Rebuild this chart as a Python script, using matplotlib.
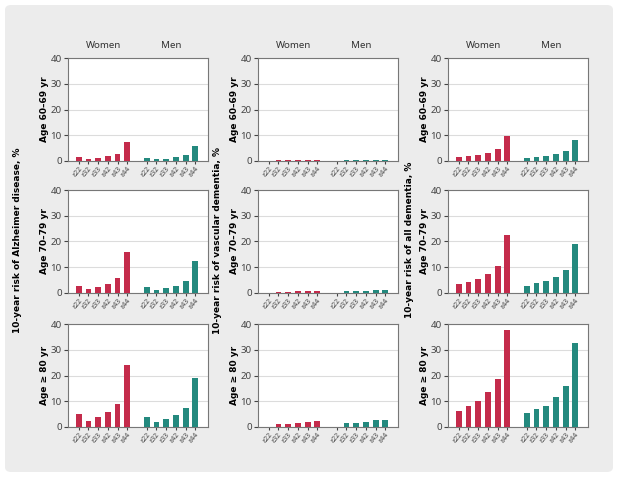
import numpy as np
import matplotlib.pyplot as plt
from matplotlib.patches import FancyBboxPatch

plt.rcParams['font.family'] = ['Noto Sans', 'DejaVu Sans']

genotypes = ['ε22', 'ε32', 'ε33', 'ε42', 'ε43', 'ε44']
ages = ['Age 60–69 yr', 'Age 70–79 yr', 'Age ≥ 80 yr']
outcomes = ['10-year risk of Alzheimer disease, %',
            '10-year risk of vascular dementia, %',
            '10-year risk of all dementia, %']

# Alzheimer disease
ad_women = [[1.4, 0.7, 1.1, 1.8, 2.7, 7.4],
            [2.9, 1.4, 2.4, 3.6, 5.8, 15.9],
            [4.9, 2.3, 4.0, 5.9, 9.1, 24.1]]
ad_men = [[1.1, 0.6, 0.8, 1.4, 2.2, 5.8],
          [2.3, 1.2, 1.9, 2.7, 4.5, 12.4],
          [3.7, 1.8, 3.1, 4.5, 7.2, 19.1]]
# vascular dementia
vd_women = [[0.0, 0.2, 0.2, 0.2, 0.3, 0.3],
            [0.0, 0.5, 0.5, 0.6, 0.9, 0.9],
            [0.0, 1.3, 1.2, 1.5, 2.1, 2.2]]
vd_men = [[0.0, 0.2, 0.2, 0.2, 0.3, 0.3],
          [0.0, 0.6, 0.6, 0.7, 1.0, 1.1],
          [0.0, 1.5, 1.4, 1.8, 2.6, 2.6]]
# all dementia
all_women = [[1.5, 1.9, 2.4, 3.3, 4.5, 9.7],
             [3.5, 4.4, 5.5, 7.4, 10.5, 22.6],
             [6.3, 8.1, 10.0, 13.6, 18.7, 37.8]]
all_men = [[1.3, 1.7, 2.1, 2.7, 3.7, 8.2],
           [2.9, 3.7, 4.6, 6.4, 9.0, 19.2],
           [5.3, 6.8, 8.3, 11.5, 15.9, 32.8]]

women_data = [ad_women, vd_women, all_women]
men_data = [ad_men, vd_men, all_men]

red = '#c42b4b'
teal = '#24897e'
bold_font = ['DejaVu Sans']

fig = plt.figure(figsize=(6.2, 4.8), dpi=100)
bg = FancyBboxPatch((5/620, 8/480), 608/620, 467/480, boxstyle='round,pad=0,rounding_size=0.01',
                    transform=fig.transFigure, facecolor='#ececec', edgecolor='none', zorder=-10)
fig.patches.append(bg)

lefts = [68/620, 258/620, 448/620]
bottoms = [1-161/480, 1-293/480, 1-427/480]
w = 140/620
h = 103/480

xw = np.arange(6)
xm = np.arange(6) + 7

for c in range(3):
    for r in range(3):
        ax = fig.add_axes([lefts[c], bottoms[r], w, h])
        ax.bar(xw, women_data[c][r], width=0.6, color=red, zorder=3)
        ax.bar(xm, men_data[c][r], width=0.6, color=teal, zorder=3)
        ax.set_ylim(0, 40)
        ax.set_xlim(-1.1, 13.3)
        ax.set_yticks([0, 10, 20, 30, 40])
        ax.yaxis.grid(True, color='#dcdcdc', lw=0.8, zorder=0)
        ax.set_xticks(np.concatenate([xw, xm]))
        ax.set_xticklabels(genotypes * 2, rotation=50, ha='right', rotation_mode='anchor',
                           fontsize=5, color='#444444')
        ax.tick_params(axis='y', labelsize=7, colors='#444444', length=3, pad=1.5)
        ax.tick_params(axis='x', length=2, pad=1, colors='#444444')
        for s in ax.spines.values():
            s.set_color('#777777')
            s.set_linewidth(0.8)
        ax.set_ylabel(ages[r], fontsize=6.5, fontweight='bold', family=bold_font, labelpad=1)
        if r == 0:
            ax.text(2.5, 1.08, 'Women', transform=ax.get_xaxis_transform(), ha='center',
                    va='bottom', fontsize=7, color='#333333')
            ax.text(9.5, 1.08, 'Men', transform=ax.get_xaxis_transform(), ha='center',
                    va='bottom', fontsize=7, color='#333333')

label_x = [18/620, 218/620, 410/620]
for c in range(3):
    fig.text(label_x[c], 1-240/480, outcomes[c], rotation=90, ha='center', va='center',
             fontsize=6.5, fontweight='bold', family=bold_font)

fig.savefig('out.png', dpi=100, facecolor='white')
